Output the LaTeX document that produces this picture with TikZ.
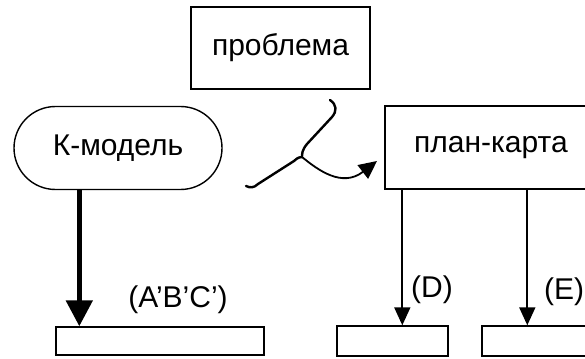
\documentclass[tikz,border=0pt]{standalone}
\usepackage{fontspec}
\setmainfont{Liberation Sans}
\usetikzlibrary{arrows.meta,shapes.misc}
\begin{document}
\begin{tikzpicture}[x=1pt,y=-1pt,
  box/.style={draw,line width=1.4pt,rectangle,inner sep=0pt,font=\fontsize{30}{36}\selectfont},
  lbl/.style={font=\fontsize{30}{36}\selectfont,inner sep=0pt},
  thinarrow/.style={line width=1.8pt,-{Triangle[length=18pt,width=16pt]}},
  thickarrow/.style={line width=5pt,-{Triangle[length=26pt,width=26pt]}}]
\useasboundingbox (0,0) rectangle (585,358);
\begin{scope}
\clip (0,0) rectangle (585,358);
\node[box,minimum width=179pt,minimum height=82pt] (prob) at (280.5,48) {проблема};
\node[box,rounded rectangle,minimum width=208pt,minimum height=83pt] (km) at (118,148) {К-модель};
\node[box,minimum width=212pt,minimum height=83pt] (plan) at (491,147.5) {план-карта};
\node[box,minimum width=208pt,minimum height=28pt] (b1) at (160,341) {};
\node[box,minimum width=111pt,minimum height=30pt] (b2) at (392.5,341) {};
\node[box,minimum width=111pt,minimum height=30pt] (b3) at (537.5,341) {};
\draw[thickarrow] ([xshift=24pt]b1.north west |- km.south) -- ([xshift=24pt]b1.north west);
\draw[thinarrow] ([xshift=18pt]plan.south west) -- ([xshift=18pt]plan.south west |- b2.north);
\draw[thinarrow] ([xshift=143pt]plan.south west) -- ([xshift=143pt]plan.south west |- b3.north);
\node[lbl] (lab1) at (178,300) {(A’B’C’)};
\node[lbl] (lab2) at (432,290) {(D)};
\node[lbl] (lab3) at (564,292) {(E)};
\coordinate (cusp) at (302,157);
\coordinate (tip) at (377,161);
\draw[line width=2.4pt,line cap=round,line join=round] (330,100) .. controls (337,105) and (337,111) .. (332,117) -- (307,144) .. controls (302,150) and (302,154) .. (cusp) .. controls (301,157) and (298,157) .. (294,161) -- (258,184) .. controls (254,188) and (250,188) .. (246,186);
\draw[line width=1.8pt,-{Triangle[length=18pt,width=17pt]}] (cusp) .. controls (318,170) and (342,188) .. (tip);
\end{scope}
\end{tikzpicture}
\end{document}
